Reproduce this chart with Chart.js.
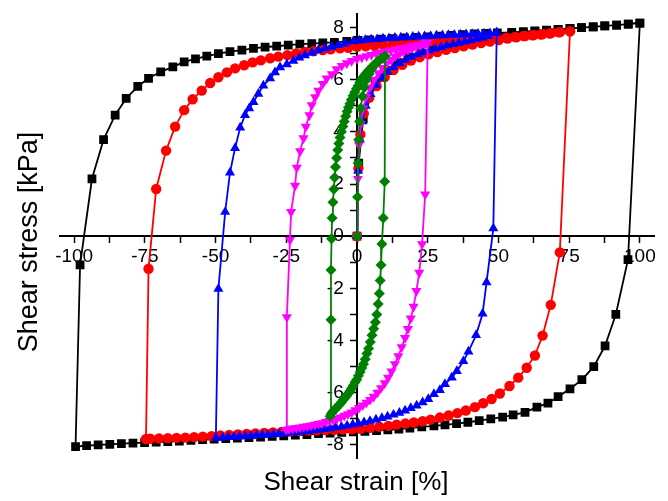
<!DOCTYPE html>
<html>
<head>
<meta charset="utf-8">
<script src="https://cdn.jsdelivr.net/npm/chart.js@4"></script>
<style>
  html, body { margin: 0; padding: 0; background: #fff; }
  #wrap { width: 668px; height: 501px; position: relative; }
</style>
</head>
<body>
<div id="wrap"><canvas id="loops"></canvas></div>
<script>
// axis text
const xTitle = 'Shear strain [%]';
const yTitle = 'Shear stress [kPa]';
const xMajorTicks = [-100, -75, -50, -25, 0, 25, 50, 75, 100];
const xMinorTicks = [-87.5, -62.5, -37.5, -12.5, 12.5, 37.5, 62.5, 87.5];
const yMajorTicks = [-8, -6, -4, -2, 0, 2, 4, 6, 8];
const yMinorTicks = [-7, -5, -3, -1, 1, 3, 5, 7];

// +/-100 % loop (black squares): loading, unloading, reloading
const strain100 = [
  0, 0.6, 2.2, 6.4, 10.5, 14.6, 18.7, 22.8, 26.9, 31, 35.1, 39.2, 43.3, 47.4, 51.5, 54.7, 58.8, 62.9, 67, 71.1, 75.3, 79.4, 83.5, 87.6, 91.8, 95.9, 100,
  95.8, 91.5, 87.7, 83.7, 79.5, 75.3, 71.1, 67.5, 63.6, 59.4, 55.2, 51.5, 47.3, 43.2, 39.2, 35.2, 31.1, 27.2, 22.9, 18.7, 14.8, 10.9, 6.9, 2.8,
  -1.3, -5.4, -9.5, -13.6, -17.7, -21.8, -25.9, -30, -34.1, -38.2, -42.3, -46.4, -50.5, -54.6, -58.7, -62.8, -66.9, -71, -75.1, -79.2, -83.3, -87.4, -91.5, -95.6, -99.5,
  -97.9, -93.7, -89.6, -85.5, -81.6, -77.5, -73.7, -69.4, -65.1, -61.1, -57.1, -53.1, -49, -44.9, -40.7, -36.6, -32.5, -28.4, -24.3, -20.2, -16, -12.1, -8, -3.6,
  0.4, 4.5, 8.6, 12.7, 16.8, 20.9, 25, 29.1, 33.2, 37.3, 41.4, 45.5, 49.6, 54.7, 58.8, 62.9, 67, 71.1, 75.3, 79.4, 83.5, 87.6, 91.8, 95.9, 100
];
const stress100 = [
  0, 2.8, 4.5, 5.85, 6.35, 6.65, 6.86, 7.02, 7.14, 7.24, 7.33, 7.41, 7.48, 7.56, 7.66, 7.75, 7.81, 7.85, 7.89, 7.93, 7.96, 7.99, 8.02, 8.06, 8.09, 8.13, 8.17,
  -0.9, -3.0, -4.2, -5.0, -5.5, -5.85, -6.15, -6.4, -6.55, -6.75, -6.85, -6.93, -7.0, -7.07, -7.13, -7.18, -7.23, -7.27, -7.31, -7.35, -7.39, -7.42, -7.45, -7.48,
  -7.5, -7.52, -7.55, -7.57, -7.6, -7.62, -7.65, -7.67, -7.7, -7.72, -7.74, -7.76, -7.78, -7.8, -7.82, -7.85, -7.87, -7.89, -7.91, -7.93, -7.95, -7.98, -8.0, -8.03, -8.06,
  -1.1, 2.2, 3.7, 4.64, 5.28, 5.74, 6.05, 6.3, 6.49, 6.68, 6.8, 6.9, 7.0, 7.07, 7.13, 7.2, 7.25, 7.28, 7.32, 7.36, 7.38, 7.41, 7.43, 7.47,
  7.5, 7.52, 7.55, 7.57, 7.6, 7.62, 7.64, 7.67, 7.7, 7.72, 7.75, 7.77, 7.79, 7.81, 7.84, 7.87, 7.9, 7.93, 7.96, 7.99, 8.02, 8.06, 8.09, 8.13, 8.17
];

// +/-75 % loop (red circles)
const strain75 = [
  0, 0.5, 1.2, 2.4, 4.3, 6.9, 9.8, 12.9, 16, 19.1, 22.2, 25.3, 28.4, 31.5, 34.6, 37.7, 40.8, 43.9, 47, 50.1, 53.2, 56.3, 59.4, 62.5, 65.6, 68.7, 71.8, 75.3,
  71.7, 68.5, 65.6, 62.9, 60, 57, 53.9, 50.5, 47.6, 44.6, 41.7, 38.5, 35.5, 32.4, 29.3, 26, 23.2, 20.1, 17.1, 14, 11.1, 7.9, 4.6, 1.3,
  -1.8, -4.9, -8, -11.1, -14.2, -17.3, -20.4, -23.5, -26.6, -29.7, -32.8, -35.9, -39, -42.1, -45.2, -48.3, -51.4, -54.5, -57.6, -60.7, -63.8, -66.9, -70, -73.1, -74.6,
  -73.7, -71, -67.5, -64.3, -61.1, -58.1, -54.9, -51.9, -49, -46, -43.1, -39.9, -36.9, -34, -30.7, -27.8, -24.6, -21.5, -18.4, -15.4, -12.1, -9.3, -6, -3.1,
  0, 3.1, 6.2, 9.3, 12.4, 15.5, 18.6, 21.7, 24.8, 27.9, 31, 34.1, 37.2, 40.3, 43.4, 46.5, 49.6, 52.7, 55.8, 58.9, 62, 65.1, 68.2, 71.3, 75.3
];
const stress75 = [
  0, 2.6, 3.9, 4.7, 5.3, 5.75, 6.1, 6.37, 6.57, 6.73, 6.86, 6.97, 7.06, 7.14, 7.21, 7.28, 7.34, 7.4, 7.46, 7.52, 7.57, 7.62, 7.67, 7.71, 7.75, 7.79, 7.82, 7.85,
  -0.62, -2.63, -3.81, -4.57, -5.04, -5.42, -5.74, -6.03, -6.24, -6.4, -6.55, -6.68, -6.78, -6.87, -6.95, -7.03, -7.09, -7.14, -7.18, -7.22, -7.27, -7.3, -7.34, -7.38,
  -7.4, -7.41, -7.42, -7.43, -7.44, -7.45, -7.46, -7.48, -7.5, -7.52, -7.54, -7.56, -7.58, -7.6, -7.62, -7.64, -7.66, -7.68, -7.7, -7.72, -7.73, -7.74, -7.75, -7.76, -7.77,
  -1.25, 1.81, 3.28, 4.2, 4.83, 5.25, 5.58, 5.87, 6.09, 6.28, 6.43, 6.55, 6.66, 6.74, 6.82, 6.88, 6.94, 7.0, 7.06, 7.09, 7.13, 7.16, 7.2, 7.22,
  7.26, 7.28, 7.3, 7.32, 7.34, 7.36, 7.38, 7.4, 7.42, 7.44, 7.46, 7.48, 7.5, 7.52, 7.54, 7.56, 7.58, 7.61, 7.64, 7.67, 7.7, 7.73, 7.77, 7.81, 7.85
];

// +/-50 % loop (blue triangles)
const strain50 = [
  0, 0.4, 1, 1.9, 3.1, 4.8, 6.7, 8.7, 10.8, 12.9, 15, 17.1, 19.2, 21.3, 23.4, 25.5, 27.6, 29.7, 31.8, 33.9, 36, 38.1, 40.2, 42.3, 44.4, 46.5, 49.4,
  48.2, 45.8, 44.4, 42.1, 39.4, 37.6, 35.3, 33.5, 31.1, 29.3, 27.2, 25.2, 23.2, 21.1, 19, 17, 15, 12.9, 10.8, 8.8, 6.7, 4.6, 2.5, 0.5,
  -1.5, -3.5, -5.5, -7.5, -9.5, -11.5, -13.5, -15.5, -17.5, -19.5, -21.5, -23.5, -25.5, -27.5, -29.5, -31.5, -33.5, -35.5, -37.5, -39.5, -41.5, -43.5, -45.5, -47.5, -49.9,
  -49, -46.6, -44.9, -43.1, -41.3, -39.6, -38.1, -36.6, -34.9, -33.1, -30.7, -29, -27.2, -24.8, -22.5, -20.4, -18.4, -16, -13.7, -11.3, -8.9, -6.6, -4.2, -1.3,
  0.8, 2.9, 5, 7.1, 9.2, 11.3, 13.4, 15.5, 17.6, 19.7, 21.8, 23.9, 26, 28.1, 30.2, 32.3, 34.4, 36.5, 38.6, 40.7, 42.8, 44.9, 47, 49.4
];
const stress50 = [
  0, 2.5, 3.7, 4.4, 5.0, 5.45, 5.8, 6.07, 6.3, 6.48, 6.63, 6.76, 6.87, 6.97, 7.05, 7.12, 7.19, 7.25, 7.31, 7.36, 7.41, 7.46, 7.51, 7.56, 7.61, 7.67, 7.8,
  0.3, -1.77, -2.97, -3.79, -4.42, -4.79, -5.17, -5.42, -5.67, -5.9, -6.05, -6.24, -6.37, -6.49, -6.59, -6.68, -6.77, -6.84, -6.91, -6.97, -7.03, -7.08, -7.13, -7.18,
  -7.22, -7.26, -7.3, -7.33, -7.36, -7.39, -7.42, -7.44, -7.47, -7.49, -7.51, -7.53, -7.55, -7.57, -7.59, -7.6, -7.62, -7.63, -7.65, -7.66, -7.68, -7.69, -7.7, -7.72, -7.73,
  -2.02, 0.93, 2.44, 3.38, 4.16, 4.64, 4.9, 5.14, 5.46, 5.77, 6.05, 6.28, 6.47, 6.59, 6.72, 6.84, 6.93, 7.03, 7.12, 7.2, 7.26, 7.32, 7.38, 7.47,
  7.5, 7.52, 7.54, 7.55, 7.57, 7.58, 7.6, 7.61, 7.62, 7.64, 7.65, 7.66, 7.67, 7.69, 7.7, 7.71, 7.72, 7.73, 7.74, 7.75, 7.76, 7.77, 7.78, 7.8
];

// +/-25 % loop (magenta down triangles)
const strain25 = [
  0, 0.3, 0.7, 1.3, 2.2, 3.3, 4.6, 6, 7.5, 9, 10.5, 12, 13.5, 15, 16.5, 18, 19.5, 21, 22.5, 24, 25,
  24.1, 23, 22, 21, 20, 19, 18, 17, 15.8, 14.6, 13.4, 12.2, 11, 9.8, 8.5, 7.2, 5.9, 4.6, 3.3, 2, 0.7,
  -0.6, -1.9, -3.2, -4.5, -5.8, -7.1, -8.4, -9.7, -11, -12.3, -13.6, -14.9, -16.2, -17.5, -18.8, -20.1, -21.4, -22.7, -24, -25,
  -24.8, -23.7, -23.3, -21.9, -21.3, -20.1, -18.9, -18.1, -16.8, -16, -14.8, -13.7, -12.1, -10.7, -8.9, -7.2, -5.4, -3.6, -1.9,
  0, 1.7, 3.4, 5.1, 6.8, 8.5, 10.2, 11.9, 13.6, 15.3, 17, 18.7, 20.4, 22.1, 23.8, 25
];
const stress25 = [
  0, 2.2, 3.5, 4.3, 4.9, 5.35, 5.7, 6.0, 6.25, 6.45, 6.62, 6.76, 6.88, 6.98, 7.06, 7.14, 7.2, 7.27, 7.32, 7.38, 7.42,
  1.6, -0.3, -1.4, -2.1, -2.7, -3.15, -3.55, -3.9, -4.25, -4.6, -4.9, -5.18, -5.42, -5.63, -5.82, -6.0, -6.15, -6.27, -6.38, -6.48, -6.58,
  -6.67, -6.75, -6.82, -6.88, -6.94, -6.99, -7.04, -7.08, -7.12, -7.16, -7.19, -7.22, -7.25, -7.28, -7.3, -7.33, -7.35, -7.37, -7.39, -7.42,
  -3.1, -0.14, 0.93, 1.94, 2.63, 3.26, 3.76, 4.2, 4.64, 5.02, 5.33, 5.58, 5.84, 6.05, 6.21, 6.4, 6.53, 6.63, 6.72,
  6.79, 6.85, 6.9, 6.95, 7.0, 7.04, 7.08, 7.12, 7.16, 7.2, 7.24, 7.27, 7.31, 7.35, 7.39, 7.42
];

// +/-10 % loop (green diamonds)
const strain10 = [
  0, 0.2, 0.4, 0.6, 0.9, 1.3, 1.9, 2.6, 3.4, 4.3, 5.3, 6.4, 7.5, 8.7, 9.9,
  9.8, 9.3, 8.8, 8.5, 8.2, 7.9, 7.5, 7, 6.5, 5.9, 5.3, 4.7, 4.1, 3.5, 2.9, 2.3, 1.7, 1.1, 0.5,
  -0.1, -0.7, -1.3, -1.9, -2.5, -3.1, -3.7, -4.3, -4.9, -5.5, -6.1, -6.7, -7.3, -7.9, -8.5, -9.1, -9.5,
  -9.2, -9.2, -9, -8.8, -8.5, -8.2, -7.9, -7.6, -7.2, -6.8, -6.4, -6, -5.5, -5, -4.5, -4, -3.5, -3, -2.5, -2, -1.4, -0.8, -0.2,
  0.4, 1, 1.7, 2.4, 3.1, 3.9, 4.7, 5.5, 6.3, 7.2, 8.1, 9, 9.9
];
const stress10 = [
  0, 1.5, 2.8, 3.7, 4.4, 4.9, 5.35, 5.7, 6.0, 6.22, 6.42, 6.58, 6.7, 6.81, 6.9,
  2.1, 0.7, -0.3, -1.1, -1.7, -2.2, -2.6, -3.0, -3.3, -3.55, -3.8, -4.05, -4.3, -4.5, -4.72, -4.9, -5.05, -5.2, -5.35,
  -5.5, -5.6, -5.72, -5.83, -5.93, -6.03, -6.12, -6.2, -6.28, -6.36, -6.44, -6.51, -6.58, -6.65, -6.72, -6.8, -6.9,
  -3.2, -1.3, -0.1, 0.7, 1.3, 1.8, 2.25, 2.65, 3.0, 3.3, 3.55, 3.78, 4.0, 4.2, 4.4, 4.6, 4.78, 4.93, 5.08, 5.23, 5.38, 5.52, 5.65,
  5.77, 5.9, 6.02, 6.13, 6.23, 6.33, 6.42, 6.51, 6.6, 6.68, 6.76, 6.83, 6.9
];

const FONT = '"Liberation Sans", Arial, sans-serif';

function toPoints(xs, ys) {
  return xs.map((x, i) => ({ x: x, y: ys[i] }));
}

function loop(label, xs, ys, color, style, radius, rotation, order) {
  return {
    label: label,
    data: toPoints(xs, ys),
    showLine: true,
    borderColor: color,
    backgroundColor: color,
    borderWidth: 1.8,
    pointStyle: style,
    pointRadius: radius,
    pointRotation: rotation,
    pointBorderWidth: 0,
    pointBackgroundColor: color,
    tension: 0,
    order: order
  };
}

const axisTitles = {
  id: 'axisTitles',
  afterDraw(chart) {
    const ctx = chart.ctx;
    ctx.save();
    ctx.fillStyle = '#000';
    ctx.textAlign = 'center';
    ctx.textBaseline = 'alphabetic';
    ctx.font = '26px ' + FONT;
    ctx.fillText(xTitle, 356, 490);
    ctx.translate(37, 242);
    ctx.rotate(-Math.PI / 2);
    ctx.font = '27px ' + FONT;
    ctx.fillText(yTitle, 0, 0);
    ctx.restore();
  }
};

function tickSetter(major, minor) {
  return scale => {
    scale.ticks = major.concat(minor).sort((a, b) => a - b).map(v => ({ value: v }));
  };
}

new Chart(document.getElementById('loops'), {
  type: 'scatter',
  data: {
    datasets: [
      loop('100', strain100, stress100, '#000000', 'rect', 6.2, 0, 5),
      loop('75', strain75, stress75, '#ff0000', 'circle', 5.2, 0, 4),
      loop('50', strain50, stress50, '#0000ff', 'triangle', 5.8, 0, 3),
      loop('25', strain25, stress25, '#ff00ff', 'triangle', 5.8, 180, 2),
      loop('10', strain10, stress10, '#008000', 'rectRot', 5.5, 0, 1)
    ]
  },
  options: {
    responsive: true,
    maintainAspectRatio: false,
    animation: false,
    layout: { padding: { left: 60, right: 14, top: 8, bottom: 43 } },
    plugins: { legend: { display: false }, tooltip: { enabled: false } },
    scales: {
      x: {
        type: 'linear',
        min: -105,
        max: 105,
        position: { y: 0 },
        afterBuildTicks: tickSetter(xMajorTicks, xMinorTicks),
        border: { display: true, color: '#000', width: 2 },
        grid: { drawOnChartArea: false, drawTicks: true, tickLength: 6, tickColor: '#000', tickWidth: 1.5 },
        ticks: {
          color: '#000',
          font: { family: FONT, size: 19 },
          padding: 3,
          maxRotation: 0,
          autoSkip: false,
          callback: v => xMajorTicks.includes(v) ? String(v) : ''
        }
      },
      y: {
        type: 'linear',
        min: -8.5,
        max: 8.5,
        position: { x: 0 },
        afterBuildTicks: tickSetter(yMajorTicks, yMinorTicks),
        border: { display: true, color: '#000', width: 2 },
        grid: { drawOnChartArea: false, drawTicks: true, tickLength: 6, tickColor: '#000', tickWidth: 1.5 },
        ticks: {
          color: '#000',
          font: { family: FONT, size: 19 },
          autoSkip: false,
          // labels of a value-positioned axis sit on the line, so pad them with spaces
          callback: v => yMajorTicks.includes(v) ? String(v) + '\u2002\u2009' : ''
        }
      }
    }
  },
  plugins: [axisTitles]
});
</script>
</body>
</html>
